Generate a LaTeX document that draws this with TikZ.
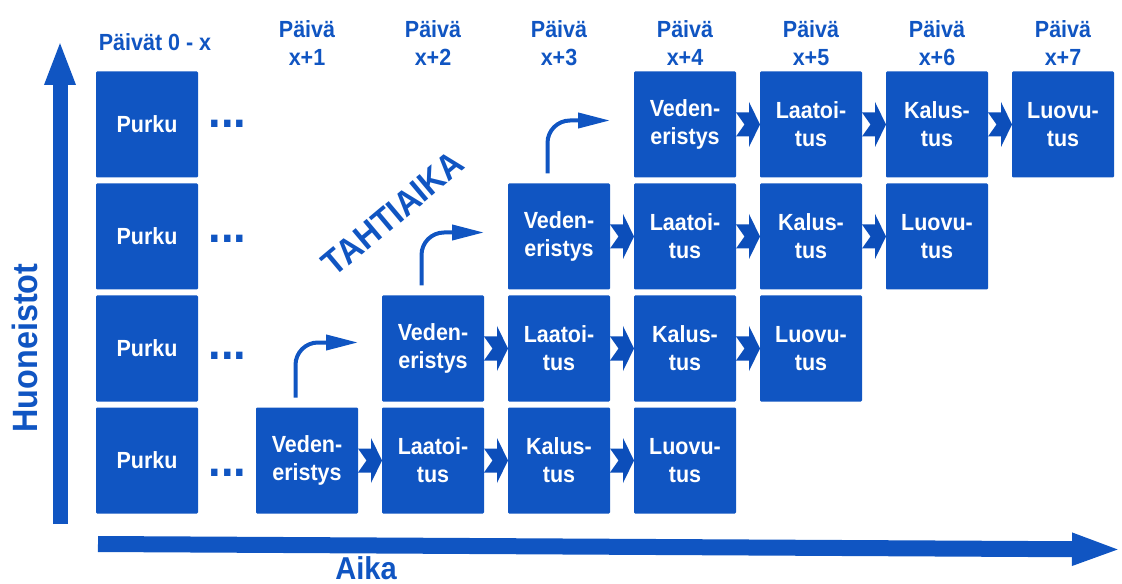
\documentclass[tikz,border=0pt]{standalone}
\usepackage{fontspec}
\setmainfont{Liberation Sans}[FakeStretch=0.92]
\usetikzlibrary{arrows.meta}
\definecolor{boxblue}{RGB}{16,85,194}
\definecolor{chevblue}{RGB}{12,78,186}
\tikzset{work/.style={fill=boxblue,rounded corners=0.6pt,minimum width=2.04cm,minimum height=2.12cm,
                      inner sep=0pt,outer sep=0pt,align=center,text=white,font=\fontsize{13.3}{16}\selectfont\bfseries},
         day/.style={anchor=north,inner sep=0pt,align=center,text=boxblue,font=\fontsize{13.3}{16}\selectfont\bfseries},
         more/.style={anchor=base,inner sep=0pt,text=boxblue,font=\fontsize{28}{28}\selectfont\bfseries},
         big/.style={inner sep=0pt,text=boxblue,font=\fontsize{20}{24}\selectfont\bfseries},
         hop/.style={draw=boxblue,line width=0.08cm,rounded corners=0.45cm,-{Triangle[length=0.64cm,width=0.3cm]}}}
% notched arrow between two boxes of a row
\newcommand{\chev}[2]{\fill[chevblue]([yshift=0.24cm]#1.east)--([xshift=-0.22cm,yshift=0.24cm]#2.west)
   --([xshift=-0.22cm,yshift=0.45cm]#2.west)--(#2.west)--([xshift=-0.22cm,yshift=-0.45cm]#2.west)
   --([xshift=-0.22cm,yshift=-0.24cm]#2.west)--([yshift=-0.24cm]#1.east)--([xshift=0.17cm]#1.east)--cycle;}

\begin{document}
\begin{tikzpicture}
        \useasboundingbox (0,0) rectangle (22.44,11.66);

        % days
        \node[day](d0)at(3.10,11.00){Päivät 0 - x};
        \node[day](d1)at(6.14,11.26){Päivä\\x+1};
        \node[day](d2)at(8.66,11.26){Päivä\\x+2};
        \node[day](d3)at(11.18,11.26){Päivä\\x+3};
        \node[day](d4)at(13.70,11.26){Päivä\\x+4};
        \node[day](d5)at(16.22,11.26){Päivä\\x+5};
        \node[day](d6)at(18.74,11.26){Päivä\\x+6};
        \node[day](d7)at(21.26,11.26){Päivä\\x+7};

        % apartment 1
        \node[work](p1)at(2.94,2.45){Purku};
        \node[work](v1)at(6.14,2.45){Veden-\\eristys};
        \node[work](l1)at(8.66,2.45){Laatoi-\\tus};
        \node[work](k1)at(11.18,2.45){Kalus-\\tus};
        \node[work](u1)at(13.70,2.45){Luovu-\\tus};
        % apartment 2
        \node[work](p2)at(2.94,4.69){Purku};
        \node[work](v2)at(8.66,4.69){Veden-\\eristys};
        \node[work](l2)at(11.18,4.69){Laatoi-\\tus};
        \node[work](k2)at(13.70,4.69){Kalus-\\tus};
        \node[work](u2)at(16.22,4.69){Luovu-\\tus};
        % apartment 3
        \node[work](p3)at(2.94,6.93){Purku};
        \node[work](v3)at(11.18,6.93){Veden-\\eristys};
        \node[work](l3)at(13.70,6.93){Laatoi-\\tus};
        \node[work](k3)at(16.22,6.93){Kalus-\\tus};
        \node[work](u3)at(18.74,6.93){Luovu-\\tus};
        % apartment 4
        \node[work](p4)at(2.94,9.17){Purku};
        \node[work](v4)at(13.70,9.17){Veden-\\eristys};
        \node[work](l4)at(16.22,9.17){Laatoi-\\tus};
        \node[work](k4)at(18.74,9.17){Kalus-\\tus};
        \node[work](u4)at(21.26,9.17){Luovu-\\tus};

        \node[more](m1)at(4.55,2.14){...};
        \node[more](m2)at(4.55,4.46){...};
        \node[more](m3)at(4.55,6.80){...};
        \node[more](m4)at(4.55,9.10){...};

        \chev{v1}{l1}\chev{l1}{k1}\chev{k1}{u1}
        \chev{v2}{l2}\chev{l2}{k2}\chev{k2}{u2}
        \chev{v3}{l3}\chev{l3}{k3}\chev{k3}{u3}
        \chev{v4}{l4}\chev{l4}{k4}\chev{k4}{u4}

        \draw[hop]([xshift=-0.23cm,yshift=0.2cm]v1.north)|-([xshift=-0.48cm,yshift=0.12cm]v2.west);
        \draw[hop]([xshift=-0.23cm,yshift=0.2cm]v2.north)|-([xshift=-0.48cm,yshift=0.08cm]v3.west);
        \draw[hop]([xshift=-0.23cm,yshift=0.2cm]v3.north)|-([xshift=-0.48cm,yshift=0.08cm]v4.west);

        \node[big,rotate=40](takt)at(7.86,7.39){TAHTIAIKA};

        % axes
        \coordinate(h0)at(1.20,1.18);
        \coordinate(h1)at(1.20,10.86);
        \coordinate(a0)at(1.96,0.78);
        \coordinate(a1)at(22.44,0.67);
        \draw[boxblue,line width=0.3cm,-{Triangle[length=0.9cm,width=0.56cm]}](h0)--(h1);
        \draw[boxblue,line width=0.32cm,-{Triangle[length=1.0cm,width=0.58cm]}](a0)--(a1);
        \node[big,rotate=90](hlabel)at(0.49,4.70){Huoneistot};
        \node[big,anchor=base,font=\fontsize{18}{22}\selectfont\bfseries](alabel)at(7.32,0.08){Aika};
    \end{tikzpicture}
\end{document}
